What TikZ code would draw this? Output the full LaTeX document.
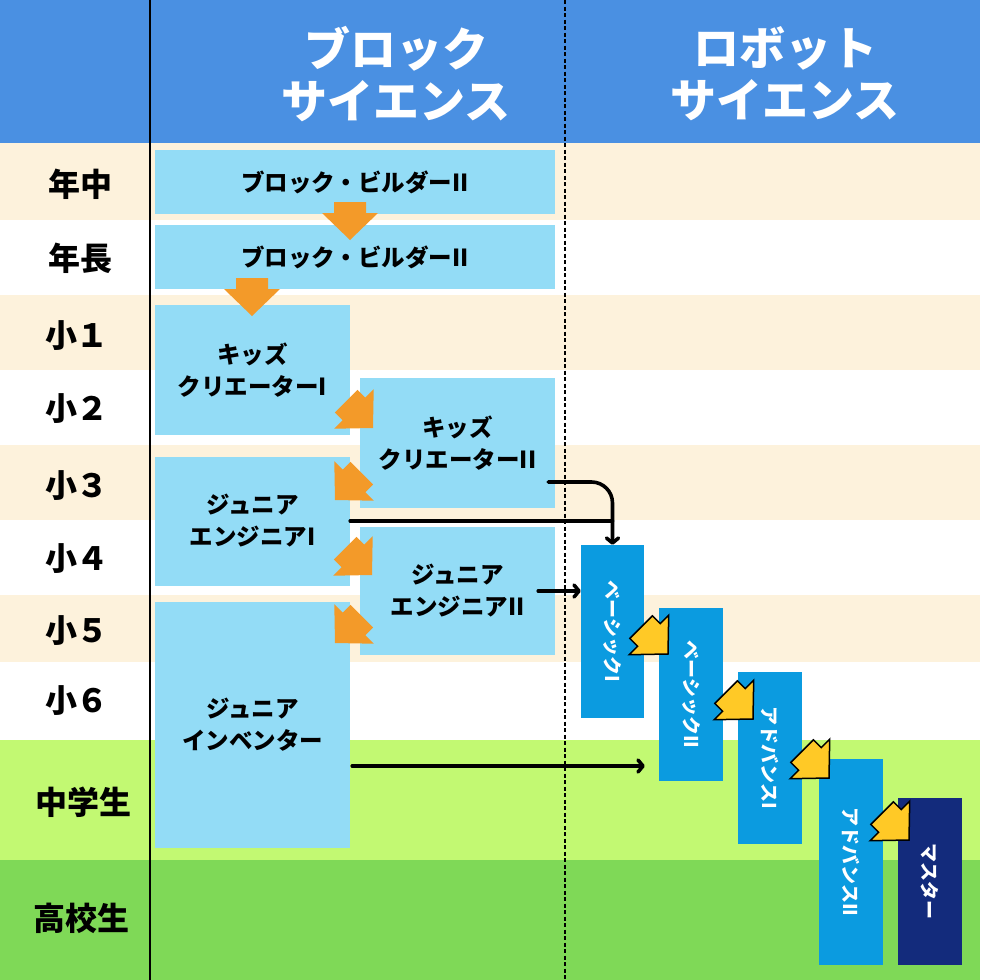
\documentclass[tikz,border=0pt]{standalone}
\usepackage{fontspec}
\setmainfont{Noto Sans CJK JP}
\usetikzlibrary{arrows.meta,calc}
\definecolor{hdrblue}{HTML}{4A90E2}
\definecolor{cream}{HTML}{FDF2DC}
\definecolor{lgreen}{HTML}{C2F972}
\definecolor{dgreen}{HTML}{7FD957}
\definecolor{cboxc}{HTML}{93DCF6}
\definecolor{rboxc}{HTML}{0B9BE0}
\definecolor{navyc}{HTML}{132B7C}
\definecolor{orangec}{HTML}{F39A29}
\definecolor{yellowc}{HTML}{FFC926}
\tikzset{
  cbox/.style={fill=cboxc, inner sep=0pt, align=center, text=black,
    font=\bfseries\fontsize{23.5}{32}\selectfont},
  rbox/.style={fill=rboxc, inner sep=0pt},
  rtext/.style={rotate=-90, text=white, inner sep=0pt, font=\bfseries\fontsize{19}{19}\selectfont},
  conn/.style={line width=3.6pt, line cap=round, line join=round},
  tipa/.style={-{Straight Barb[round,length=5pt,width=12pt]}},
  rowlbl/.style={font=\bfseries\fontsize{32}{32}\selectfont, text=black},
  hdr/.style={text=white, align=center, font=\bfseries\fontsize{46}{52}\selectfont},
  fatarr/.pic={\path[pic actions] (0,0) -- (-28,-27) -- (-16,-27) -- (-16,-38)
     -- (16,-38) -- (16,-27) -- (28,-27) -- cycle;},
  oarr/.style={fill=orangec},
  yarr/.style={fill=yellowc, draw=black, line width=1.5pt, line join=miter},
}
\begin{document}
\begin{tikzpicture}[x=1pt,y=-1pt]
\useasboundingbox (0,0) rectangle (980,980);
% bands
\fill[white] (0,0) rectangle (980,980);
\fill[hdrblue] (0,0) rectangle (980,143);
\fill[cream] (0,143) rectangle (980,220);
\fill[cream] (0,295) rectangle (980,370);
\fill[cream] (0,445) rectangle (980,520);
\fill[cream] (0,595) rectangle (980,662);
\fill[lgreen] (0,740) rectangle (980,860);
\fill[dgreen] (0,860) rectangle (980,980);
% column lines
\draw[line width=1.8pt] (150,0) -- (150,980);
\draw[line width=1.4pt, dash pattern=on 4pt off 2.5pt] (565,0) -- (565,980);
% headers
\node[hdr] (hblock) at (396,74) {ブロック\\サイエンス};
\node[hdr] (hrobot) at (785,74) {ロボット\\サイエンス};
% row labels
\node[rowlbl] (l1) at (80,184) {年中};
\node[rowlbl] (l2) at (80,258) {年長};
\node[rowlbl] (l3) at (77,336) {小１};
\node[rowlbl] (l4) at (77,409) {小２};
\node[rowlbl] (l5) at (77,486) {小３};
\node[rowlbl] (l6) at (77,559) {小４};
\node[rowlbl] (l7) at (77,631) {小５};
\node[rowlbl] (l8) at (77,701) {小６};
\node[rowlbl] (l9) at (83,802) {中学生};
\node[rowlbl] (l10) at (82,918) {高校生};
% block science boxes
\node[cbox, minimum width=400pt, minimum height=64pt] (bb1) at (355,182) {ブロック・ビルダーII};
\node[cbox, minimum width=400pt, minimum height=64pt] (bb2) at (355,257) {ブロック・ビルダーII};
\node[cbox, minimum width=195pt, minimum height=130pt] (kc1) at (252.5,370) {キッズ\\クリエーターI};
\node[cbox, minimum width=195pt, minimum height=130pt] (kc2) at (457.5,443) {キッズ\\クリエーターII};
\node[cbox, minimum width=195pt, minimum height=129pt] (je1) at (252.5,521) {ジュニア\\エンジニアI};
\node[cbox, minimum width=195pt, minimum height=128pt] (je2) at (457.5,591) {ジュニア\\エンジニアII};
\node[cbox, minimum width=195pt, minimum height=246pt] (ji) at (252.5,725) {ジュニア\\インベンター};
% robot science boxes
\node[rbox, minimum width=63pt, minimum height=173pt] (b1) at (612.5,631.5) {};
\node[rbox, minimum width=64pt, minimum height=173pt] (b2) at (691,694.5) {};
\node[rbox, minimum width=64pt, minimum height=172pt] (a1) at (770,758) {};
\node[rbox, minimum width=64pt, minimum height=206pt] (a2) at (851,862) {};
\node[rbox, fill=navyc, minimum width=64pt, minimum height=167pt] (ms) at (930,881.5) {};
\node[rtext] (b1t) at (b1.center) {ベーシックI};
\node[rtext] (b2t) at (b2.center) {ベーシックII};
\node[rtext] (a1t) at (a1.center) {アドバンスI};
\node[rtext] (a2t) at (a2.center) {アドバンスII};
\node[rtext] (mst) at (ms.center) {マスター};
% orange arrows
\pic[oarr] at (350,240) {fatarr};
\pic[oarr] at (252,316) {fatarr};
\pic[oarr, rotate=45] at (373,428) {fatarr};
\pic[oarr, rotate=-45] at (335,500) {fatarr};
\pic[oarr, rotate=45] at (372,575) {fatarr};
\pic[oarr, rotate=-45] at (335,643) {fatarr};
% yellow arrows
\pic[yarr, rotate=45] at (668,654) {fatarr};
\pic[yarr, rotate=45] at (753,719) {fatarr};
\pic[yarr, rotate=45] at (829,778) {fatarr};
\pic[yarr, rotate=45] at (909,840) {fatarr};
% connectors
\draw[conn, tipa, rounded corners=21pt] ($(kc2.east)+(-7,39)$) -| (b1.north);
\draw[conn] (je1.east) -- (je1.east -| b1.north);
\draw[conn, tipa] ($(je2.east)+(-17,0)$) -- (je2.east -| b1.west);
\draw[conn, tipa] ($(ji.east)+(2,41)$) -- ($(ji.east -| b2.west)+(-14,41)$);
\end{tikzpicture}
\end{document}
